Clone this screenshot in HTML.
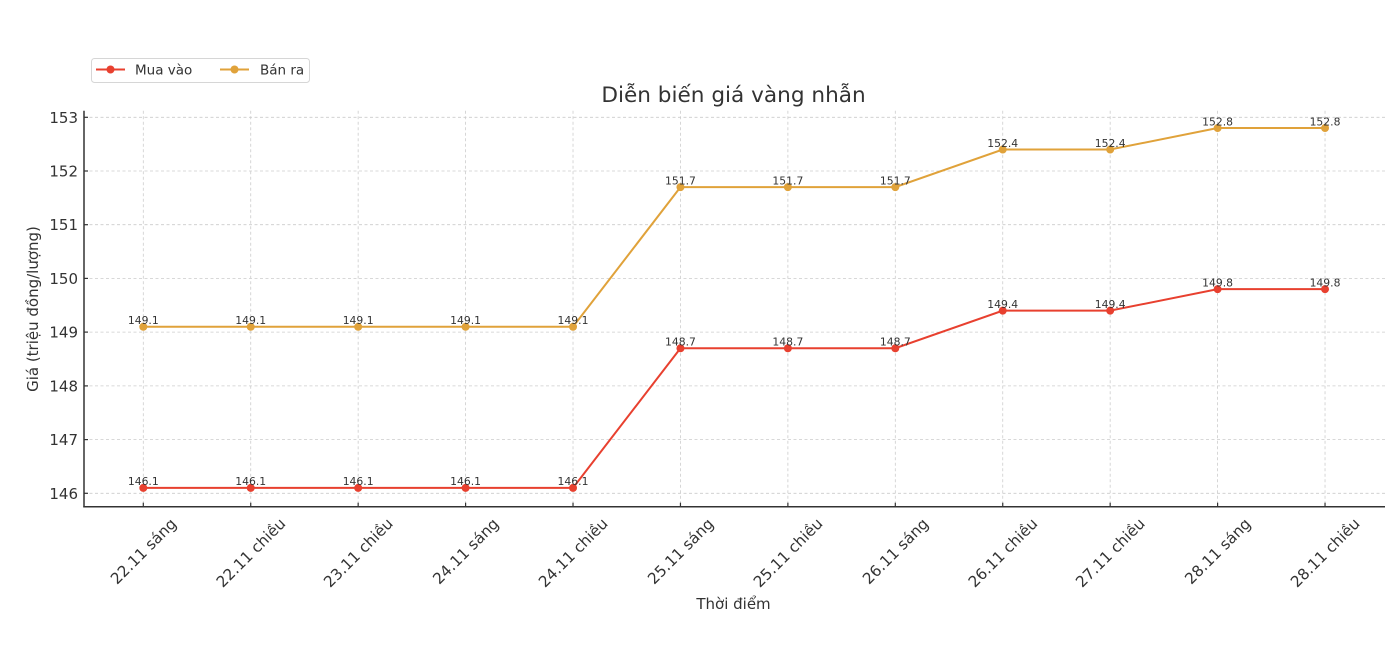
<!DOCTYPE html>
<html><head><meta charset="utf-8"><style>
html,body{margin:0;padding:0;background:#fff;}
svg{display:block;font-family:"DejaVu Sans","Liberation Sans",sans-serif;}
</style></head><body>
<svg width="1398" height="664" viewBox="0 0 1398 664" xmlns="http://www.w3.org/2000/svg">
<rect width="1398" height="664" fill="#fff"/>
<!-- grid -->
<g stroke="#cccccc" stroke-width="0.8" stroke-dasharray="3,2.5" fill="none">
<line x1="84" x2="1385" y1="117.3" y2="117.3"/>
<line x1="84" x2="1385" y1="171.0" y2="171.0"/>
<line x1="84" x2="1385" y1="224.7" y2="224.7"/>
<line x1="84" x2="1385" y1="278.4" y2="278.4"/>
<line x1="84" x2="1385" y1="332.1" y2="332.1"/>
<line x1="84" x2="1385" y1="385.9" y2="385.9"/>
<line x1="84" x2="1385" y1="439.6" y2="439.6"/>
<line x1="84" x2="1385" y1="493.3" y2="493.3"/>
<line y1="110.7" y2="506.7" x1="143.3" x2="143.3"/>
<line y1="110.7" y2="506.7" x1="250.73" x2="250.73"/>
<line y1="110.7" y2="506.7" x1="358.16" x2="358.16"/>
<line y1="110.7" y2="506.7" x1="465.59" x2="465.59"/>
<line y1="110.7" y2="506.7" x1="573.02" x2="573.02"/>
<line y1="110.7" y2="506.7" x1="680.45" x2="680.45"/>
<line y1="110.7" y2="506.7" x1="787.88" x2="787.88"/>
<line y1="110.7" y2="506.7" x1="895.31" x2="895.31"/>
<line y1="110.7" y2="506.7" x1="1002.74" x2="1002.74"/>
<line y1="110.7" y2="506.7" x1="1110.17" x2="1110.17"/>
<line y1="110.7" y2="506.7" x1="1217.6" x2="1217.6"/>
<line y1="110.7" y2="506.7" x1="1325.03" x2="1325.03"/>
</g>
<!-- spines -->
<g stroke="#333" stroke-width="1.5" fill="none">
<line x1="84" y1="110.7" x2="84" y2="507.4"/>
<line x1="83.3" y1="506.7" x2="1385" y2="506.7"/>
</g>
<!-- ticks -->
<g stroke="#333" stroke-width="1.2">
<line x1="84" x2="88" y1="117.3" y2="117.3"/>
<line x1="84" x2="88" y1="171.0" y2="171.0"/>
<line x1="84" x2="88" y1="224.7" y2="224.7"/>
<line x1="84" x2="88" y1="278.4" y2="278.4"/>
<line x1="84" x2="88" y1="332.1" y2="332.1"/>
<line x1="84" x2="88" y1="385.9" y2="385.9"/>
<line x1="84" x2="88" y1="439.6" y2="439.6"/>
<line x1="84" x2="88" y1="493.3" y2="493.3"/>
<line y1="506.7" y2="502.7" x1="143.3" x2="143.3"/>
<line y1="506.7" y2="502.7" x1="250.73" x2="250.73"/>
<line y1="506.7" y2="502.7" x1="358.16" x2="358.16"/>
<line y1="506.7" y2="502.7" x1="465.59" x2="465.59"/>
<line y1="506.7" y2="502.7" x1="573.02" x2="573.02"/>
<line y1="506.7" y2="502.7" x1="680.45" x2="680.45"/>
<line y1="506.7" y2="502.7" x1="787.88" x2="787.88"/>
<line y1="506.7" y2="502.7" x1="895.31" x2="895.31"/>
<line y1="506.7" y2="502.7" x1="1002.74" x2="1002.74"/>
<line y1="506.7" y2="502.7" x1="1110.17" x2="1110.17"/>
<line y1="506.7" y2="502.7" x1="1217.6" x2="1217.6"/>
<line y1="506.7" y2="502.7" x1="1325.03" x2="1325.03"/>
</g>
<!-- y tick labels -->
<g fill="#333" font-size="15" text-anchor="end">
<text x="78" y="122.8">153</text>
<text x="78" y="176.5">152</text>
<text x="78" y="230.2">151</text>
<text x="78" y="283.9">150</text>
<text x="78" y="337.6">149</text>
<text x="78" y="391.4">148</text>
<text x="78" y="445.1">147</text>
<text x="78" y="498.8">146</text>
</g>
<!-- x tick labels -->
<g fill="#333" font-size="15.3" text-anchor="middle">
<text x="143.3" y="556.5" transform="rotate(-45 143.3 551)">22.11 sáng</text>
<text x="250.73" y="558" transform="rotate(-45 250.73 552.5)">22.11 chiều</text>
<text x="358.16" y="558" transform="rotate(-45 358.16 552.5)">23.11 chiều</text>
<text x="465.59" y="556.5" transform="rotate(-45 465.59 551)">24.11 sáng</text>
<text x="573.02" y="558" transform="rotate(-45 573.02 552.5)">24.11 chiều</text>
<text x="680.45" y="556.5" transform="rotate(-45 680.45 551)">25.11 sáng</text>
<text x="787.88" y="558" transform="rotate(-45 787.88 552.5)">25.11 chiều</text>
<text x="895.31" y="556.5" transform="rotate(-45 895.31 551)">26.11 sáng</text>
<text x="1002.74" y="558" transform="rotate(-45 1002.74 552.5)">26.11 chiều</text>
<text x="1110.17" y="558" transform="rotate(-45 1110.17 552.5)">27.11 chiều</text>
<text x="1217.6" y="556.5" transform="rotate(-45 1217.6 551)">28.11 sáng</text>
<text x="1325.03" y="558" transform="rotate(-45 1325.03 552.5)">28.11 chiều</text>
</g>
<!-- axis labels & title -->
<text x="733.5" y="609" fill="#333" font-size="15" text-anchor="middle">Thời điểm</text>
<text x="38" y="309" fill="#333" font-size="15" text-anchor="middle" transform="rotate(-90 38 309)">Giá (triệu đồng/lượng)</text>
<text x="733.5" y="102" fill="#333" font-size="21.6" text-anchor="middle">Diễn biến giá vàng nhẫn</text>
<!-- series: Bán ra -->
<polyline fill="none" stroke="#e0a23a" stroke-width="2" points="143.3,326.77 250.73,326.77 358.16,326.77 465.59,326.77 573.02,326.77 680.45,187.12 787.88,187.12 895.31,187.12 1002.74,149.53 1110.17,149.53 1217.6,128.04 1325.03,128.04"/>
<g fill="#e0a23a">
<circle cx="143.3" cy="326.77" r="4"/><circle cx="250.73" cy="326.77" r="4"/><circle cx="358.16" cy="326.77" r="4"/><circle cx="465.59" cy="326.77" r="4"/><circle cx="573.02" cy="326.77" r="4"/><circle cx="680.45" cy="187.12" r="4"/><circle cx="787.88" cy="187.12" r="4"/><circle cx="895.31" cy="187.12" r="4"/><circle cx="1002.74" cy="149.53" r="4"/><circle cx="1110.17" cy="149.53" r="4"/><circle cx="1217.6" cy="128.04" r="4"/><circle cx="1325.03" cy="128.04" r="4"/>
</g>
<!-- series: Mua vào -->
<polyline fill="none" stroke="#e8402f" stroke-width="2" points="143.3,487.9 250.73,487.9 358.16,487.9 465.59,487.9 573.02,487.9 680.45,348.25 787.88,348.25 895.31,348.25 1002.74,310.66 1110.17,310.66 1217.6,289.17 1325.03,289.17"/>
<g fill="#e8402f">
<circle cx="143.3" cy="487.9" r="4"/><circle cx="250.73" cy="487.9" r="4"/><circle cx="358.16" cy="487.9" r="4"/><circle cx="465.59" cy="487.9" r="4"/><circle cx="573.02" cy="487.9" r="4"/><circle cx="680.45" cy="348.25" r="4"/><circle cx="787.88" cy="348.25" r="4"/><circle cx="895.31" cy="348.25" r="4"/><circle cx="1002.74" cy="310.66" r="4"/><circle cx="1110.17" cy="310.66" r="4"/><circle cx="1217.6" cy="289.17" r="4"/><circle cx="1325.03" cy="289.17" r="4"/>
</g>
<!-- annotations -->
<g fill="#333" font-size="10.8" text-anchor="middle">
<text x="143.3" y="324.1">149.1</text><text x="250.73" y="324.1">149.1</text><text x="358.16" y="324.1">149.1</text><text x="465.59" y="324.1">149.1</text><text x="573.02" y="324.1">149.1</text>
<text x="680.45" y="184.4">151.7</text><text x="787.88" y="184.4">151.7</text><text x="895.31" y="184.4">151.7</text>
<text x="1002.74" y="146.8">152.4</text><text x="1110.17" y="146.8">152.4</text>
<text x="1217.6" y="125.3">152.8</text><text x="1325.03" y="125.3">152.8</text>
<text x="143.3" y="485.2">146.1</text><text x="250.73" y="485.2">146.1</text><text x="358.16" y="485.2">146.1</text><text x="465.59" y="485.2">146.1</text><text x="573.02" y="485.2">146.1</text>
<text x="680.45" y="345.5">148.7</text><text x="787.88" y="345.5">148.7</text><text x="895.31" y="345.5">148.7</text>
<text x="1002.74" y="307.9">149.4</text><text x="1110.17" y="307.9">149.4</text>
<text x="1217.6" y="286.4">149.8</text><text x="1325.03" y="286.4">149.8</text>
</g>
<!-- legend -->
<rect x="91.5" y="58.5" width="218" height="24" rx="3" fill="#fff" stroke="#d6d6d6" stroke-width="1"/>
<line x1="96" y1="69.5" x2="125" y2="69.5" stroke="#e8402f" stroke-width="2"/>
<circle cx="110.5" cy="69.5" r="4" fill="#e8402f"/>
<text x="135" y="74.5" fill="#333" font-size="13.5">Mua vào</text>
<line x1="220" y1="69.5" x2="249" y2="69.5" stroke="#e0a23a" stroke-width="2"/>
<circle cx="234.5" cy="69.5" r="4" fill="#e0a23a"/>
<text x="260" y="74.5" fill="#333" font-size="13.5">Bán ra</text>
</svg>
</body></html>
